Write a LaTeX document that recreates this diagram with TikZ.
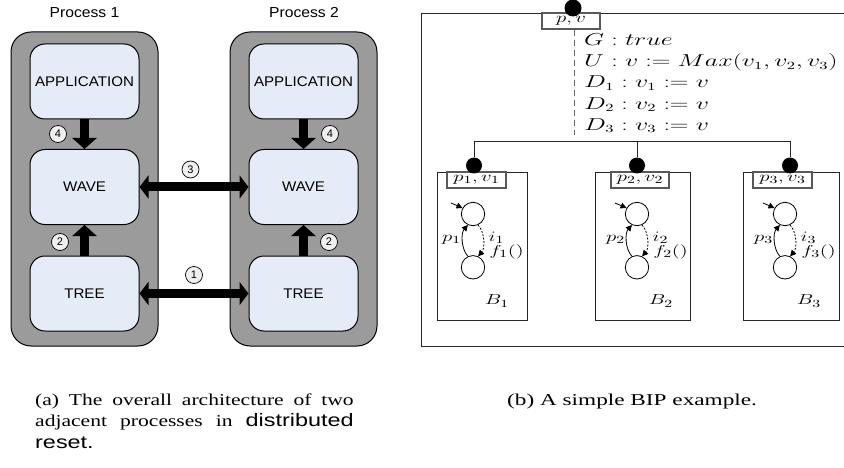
\documentclass[tikz,border=0pt]{standalone}
\usepackage{fontspec}
\setmainfont{Liberation Serif}
\newfontfamily\arialf{Liberation Sans}
\usetikzlibrary{arrows.meta}
\definecolor{procgray}{RGB}{155,155,155}
\definecolor{boxblue}{RGB}{230,236,247}
\definecolor{numfill}{RGB}{240,240,240}
\newcommand{\sxa}[1]{\scalebox{1.08}[1]{#1}}
\newcommand{\mth}[1]{\scalebox{1.44}[1]{$#1$}}
\newcommand{\mthb}[1]{\scalebox{1.5}[1]{$#1$}}
\newcommand{\capx}[1]{\scalebox{1.3}[1]{#1}}
\newcommand{\capy}[1]{\scalebox{1.4}[1]{#1}}
\begin{document}
\begin{tikzpicture}[x=1pt,y=-1pt,
  procbox/.style={draw=black, line width=1pt, fill=procgray, rounded corners=20pt, minimum width=147pt, minimum height=314pt, inner sep=0pt},
  layerbox/.style={draw=black, line width=1pt, fill=boxblue, rounded corners=15pt, minimum width=109pt, minimum height=75pt, inner sep=0pt, font=\arialf\fontsize{14}{16}\selectfont},
  ptitle/.style={font=\arialf\fontsize{14.5}{16}\selectfont, inner sep=0pt},
  numc/.style={circle, draw=black, line width=0.7pt, fill=numfill, minimum size=17pt, inner sep=0pt, font=\arialf\fontsize{11}{11}\selectfont},
  bigarrow/.style={line width=9pt, -{Triangle[width=24pt,length=11pt]}},
  bigdarrow/.style={line width=9pt, {Triangle[width=23pt,length=9pt]}-{Triangle[width=23pt,length=9pt]}},
  sysbox/.style={draw=black!85, line width=0.9pt, inner sep=0pt, anchor=north west},
  portbox/.style={draw=black!65, line width=1.2pt, fill=white, minimum height=16pt, inner sep=0pt, font=\fontsize{15.6}{16}\selectfont},
  portdot/.style={circle, fill=black, minimum size=16pt, inner sep=0pt},
  conn/.style={draw=black!85, line width=0.9pt},
  mtext/.style={anchor=base west, inner sep=0pt, font=\fontsize{16}{19}\selectfont},
  slabel/.style={inner sep=0pt, font=\fontsize{15}{16}\selectfont},
  blabel/.style={inner sep=0pt, font=\fontsize{15.5}{16}\selectfont},
  state/.style={circle, draw=black, line width=0.8pt, minimum size=23.4pt, inner sep=0pt},
  tipS/.style={-{Triangle[length=6pt,width=6pt]}},
  captext/.style={anchor=base west, inner sep=0pt, font=\fontsize{16.6}{20}\selectfont}
]
\useasboundingbox (0,0) rectangle (844,468);

% ---------- (a) architecture ----------
\node[procbox] (proc1) at (84.5,189) {};
\node[procbox] (proc2) at (303.5,189) {};
\node[ptitle] (title1) at (84.5,13) {\sxa{Process 1}};
\node[ptitle] (title2) at (304,13) {\sxa{Process 2}};

\node[layerbox] (app1) at (84.5,81.5) {\sxa{APPLICATION}};
\node[layerbox] (wave1) at (84.5,187) {\sxa{WAVE}};
\node[layerbox] (tree1) at (84.5,293.5) {\sxa{TREE}};
\node[layerbox] (app2) at (303.5,81.5) {\sxa{APPLICATION}};
\node[layerbox] (wave2) at (303.5,187) {\sxa{WAVE}};
\node[layerbox] (tree2) at (303.5,293.5) {\sxa{TREE}};

\draw[bigarrow] (app1.south) -- (wave1.north);
\draw[bigarrow] (tree1.north) -- (wave1.south);
\draw[bigarrow] (app2.south) -- (wave2.north);
\draw[bigarrow] (tree2.north) -- (wave2.south);
\draw[bigdarrow] (wave1.east) -- (wave2.west);
\draw[bigdarrow] (tree1.east) -- (tree2.west);

\node[numc] (n4a) at (58,134) {4};
\node[numc] (n2a) at (60,242) {2};
\node[numc] (n4b) at (330,134) {4};
\node[numc] (n2b) at (329,242) {2};
\node[numc] (n3) at (190.5,169.5) {3};
\node[numc] (n1) at (194,275) {1};

% ---------- (b) BIP example ----------
\node[sysbox, minimum width=430pt, minimum height=333pt] (sys) at (421,13) {};

\node[sysbox, minimum width=90pt, minimum height=148pt] (b1) at (437,172) {};
\node[sysbox, minimum width=95pt, minimum height=148pt] (b2) at (595,172) {};
\node[sysbox, minimum width=96pt, minimum height=148pt] (b3) at (743,172) {};

\node[portbox, minimum width=58pt] (pv) at (571,21) {\mth{p,v}};
\node[portbox, minimum width=59pt] (pp1) at (476.5,180) {\mth{p_1,v_1}};
\node[portbox, minimum width=58pt] (pp2) at (640,180) {\mth{p_2,v_2}};
\node[portbox, minimum width=59pt] (pp3) at (782.5,180) {\mth{p_3,v_3}};

\coordinate (dashend) at (574,135);
\draw[black!60, line width=1pt, dash pattern=on 6pt off 4pt] (pv.south -| dashend) -- (dashend);

\coordinate (hm) at (637,141);
\coordinate (hl) at (474,141);
\coordinate (hr) at (790,141);
\node[portdot] (d1) at (474,165.5) {};
\node[portdot] (d2) at (637,165.5) {};
\node[portdot] (d3) at (790,165.5) {};
\draw[conn] (d1) -- (hl) -- (hr) -- (d3);
\draw[conn] (hm) -- (d2);
\node[portdot, minimum size=17pt] (pvdot) at (573,8) {};

\node[mtext] (g) at (584,45.5) {\mthb{G : true}};
\node[mtext] (u) at (584,66.7) {\mthb{U : v := Max(v_1, v_2, v_3)}};
\node[mtext] (dd1) at (584,87.9) {\mthb{D_1 : v_1 := v}};
\node[mtext] (dd2) at (584,109.1) {\mthb{D_2 : v_2 := v}};
\node[mtext] (dd3) at (584,130.3) {\mthb{D_3 : v_3 := v}};

% automata
\foreach \k/\cx in {1/473, 2/637, 3/785} {
  \node[state] (s\k t) at (\cx,214) {};
  \node[state] (s\k b) at (\cx,267.3) {};
  \coordinate (ini\k) at (\cx-22,203);
  \draw[tipS, line width=0.8pt] (ini\k) -- (s\k t.150);
  \draw[tipS, line width=0.8pt] (s\k b.115) .. controls +(-7,-8) and +(-7,8) .. (s\k t.245);
  \draw[tipS, line width=0.8pt, dash pattern=on 2pt off 1.5pt] (s\k t.-65) .. controls +(7,8) and +(7,-8) .. (s\k b.65);
  \node[slabel] (lp\k) at (\cx-21.5,240) {\mth{p_\k}};
  \node[slabel] (li\k) at (\cx+23.5,238) {\mth{i_\k}};
  \node[slabel] (lf\k) at (\cx+33.5,252) {\mth{f_\k()}};
  \node[blabel] (lb\k) at (\cx+24,301) {\mth{B_\k}};
}

% ---------- captions ----------
\node[captext] (capa1) at (35,405) {\capx{\makebox[245pt][s]{(a) The overall architecture of two}}};
\node[captext] (capa2) at (35,426.5) {\capx{\makebox[245pt][s]{adjacent processes in {\arialf\fontsize{18}{20}\selectfont distributed}}}};
\node[captext] (capa3) at (35,448) {\capx{\arialf\fontsize{18}{20}\selectfont reset.}};
\node[captext] (capb) at (507,405) {\capy{(b) A simple BIP example.}};
\end{tikzpicture}
\end{document}
